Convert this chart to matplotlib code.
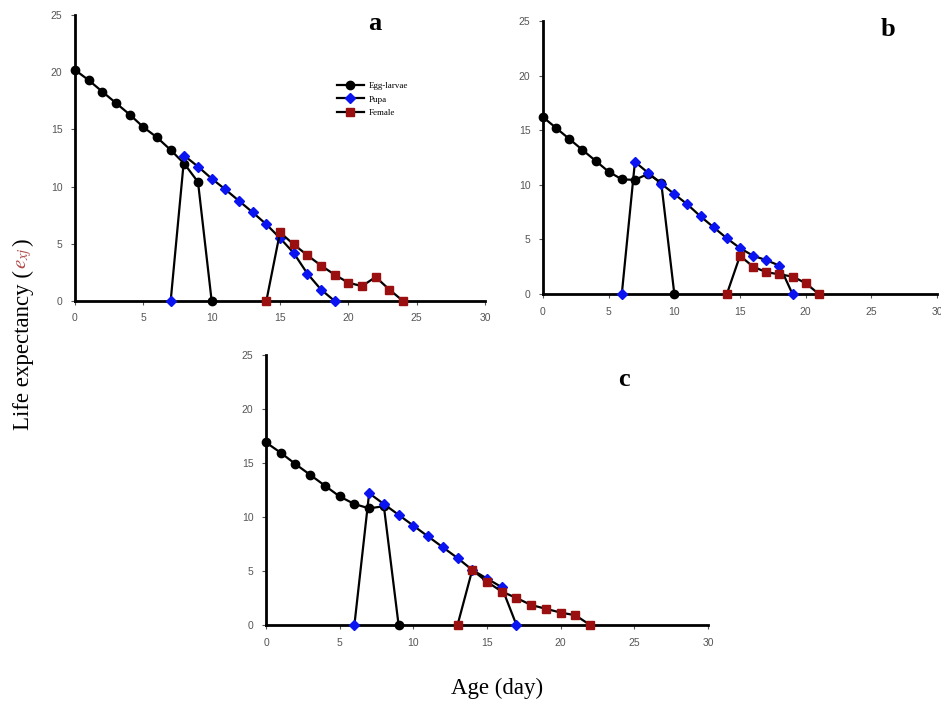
import matplotlib
matplotlib.use("Agg")
import matplotlib.pyplot as plt

plt.rcParams["mathtext.fontset"] = "stix"

# Age-stage life expectancy (e_xj) for three treatments
age_egg_a = [0, 1, 2, 3, 4, 5, 6, 7, 8, 9, 10]
egg_a = [20.2, 19.3, 18.3, 17.3, 16.3, 15.2, 14.3, 13.2, 12.0, 10.4, 0]
age_pupa_a = [7, 8, 9, 10, 11, 12, 13, 14, 15, 16, 17, 18, 19]
pupa_a = [0, 12.7, 11.75, 10.7, 9.75, 8.75, 7.75, 6.7, 5.5, 4.2, 2.4, 1.0, 0]
age_fem_a = [14, 15, 16, 17, 18, 19, 20, 21, 22, 23, 24]
fem_a = [0, 6.0, 4.95, 4.0, 3.1, 2.3, 1.6, 1.3, 2.1, 1.0, 0]

age_egg_b = [0, 1, 2, 3, 4, 5, 6, 7, 8, 9, 10]
egg_b = [16.2, 15.2, 14.2, 13.2, 12.2, 11.2, 10.5, 10.45, 11.0, 10.2, 0]
age_pupa_b = [6, 7, 8, 9, 10, 11, 12, 13, 14, 15, 16, 17, 18, 19]
pupa_b = [0, 12.1, 11.1, 10.1, 9.15, 8.2, 7.1, 6.1, 5.1, 4.2, 3.5, 3.1, 2.6, 0]
age_fem_b = [14, 15, 16, 17, 18, 19, 20, 21]
fem_b = [0, 3.5, 2.5, 2.0, 1.8, 1.6, 1.0, 0]

age_egg_c = [0, 1, 2, 3, 4, 5, 6, 7, 8, 9]
egg_c = [16.9, 15.95, 14.9, 13.9, 12.9, 11.9, 11.2, 10.8, 11.0, 0]
age_pupa_c = [6, 7, 8, 9, 10, 11, 12, 13, 14, 15, 16, 17]
pupa_c = [0, 12.2, 11.2, 10.2, 9.2, 8.2, 7.2, 6.2, 5.1, 4.3, 3.5, 0]
age_fem_c = [13, 14, 15, 16, 17, 18, 19, 20, 21, 22]
fem_c = [0, 5.1, 4.0, 3.1, 2.5, 1.85, 1.5, 1.15, 0.9, 0]

stage_names = ["Egg-larvae", "Pupa", "Female"]
panel_letters = ["a", "b", "c"]
x_ticks = [0, 5, 10, 15, 20, 25, 30]
y_ticks = [0, 5, 10, 15, 20, 25]

W, H = 941, 703
fig = plt.figure(figsize=(W / 100, H / 100), dpi=100)


def px_axes(x0, y_top, x1, y_bot):
    return fig.add_axes([x0 / W, 1 - y_bot / H, (x1 - x0) / W, (y_bot - y_top) / H])


styles = [
    dict(marker="o", mfc="black", mec="black", ms=6),
    dict(marker="D", mfc="#0a14f0", mec="#0a14f0", ms=5),
    dict(marker="s", mfc="#9a0f0f", mec="#9a0f0f", ms=5.5),
]

panels = [
    (px_axes(75, 15, 485, 301),
     [(age_egg_a, egg_a), (age_pupa_a, pupa_a), (age_fem_a, fem_a)]),
    (px_axes(543, 21, 937, 294),
     [(age_egg_b, egg_b), (age_pupa_b, pupa_b), (age_fem_b, fem_b)]),
    (px_axes(266, 355, 708, 625),
     [(age_egg_c, egg_c), (age_pupa_c, pupa_c), (age_fem_c, fem_c)]),
]

letter_pos = [(0.73, 0.97), (0.875, 0.97), (0.81, 0.91)]

for i, (ax, series) in enumerate(panels):
    for (xs, ys), name, st in zip(series, stage_names, styles):
        ax.plot(xs, ys, color="black", lw=1.6, label=name, clip_on=False,
                zorder=3, **st)
    ax.set_xlim(0, 30)
    ax.set_ylim(0, 25)
    ax.set_xticks(x_ticks)
    ax.set_yticks(y_ticks)
    for s in ("top", "right"):
        ax.spines[s].set_visible(False)
    for s in ("left", "bottom"):
        ax.spines[s].set_linewidth(2.0)
    ax.tick_params(axis="both", labelsize=7.5, labelcolor="#555555",
                   color="#555555", length=3, width=0.8, pad=6)
    for lab in ax.get_xticklabels() + ax.get_yticklabels():
        lab.set_family("Liberation Sans")
    ax.patch.set_alpha(0)
    lx, ly = letter_pos[i]
    ax.text(lx, ly, panel_letters[i], transform=ax.transAxes,
            fontsize=19, fontweight="bold", family="Liberation Serif",
            ha="center", va="center")

leg = panels[0][0].legend(loc="upper left", bbox_to_anchor=(0.63, 0.78),
                          frameon=False, handlelength=3.0, handletextpad=0.5,
                          labelspacing=0.6, borderaxespad=0,
                          prop=dict(family="Liberation Serif", size=6.5))

# Shared axis titles
fig.text(497 / W, 1 - 688 / H, "Age (day)", family="Liberation Serif",
         fontsize=16.5, ha="center", va="center")

ylab_x = 23 / W
part1 = fig.text(ylab_x, 1 - 430 / H, "Life expectancy (", rotation=90,
                 family="Liberation Serif", fontsize=16.5, ha="center",
                 va="bottom")
fig.canvas.draw()
r = fig.canvas.get_renderer()
bb = part1.get_window_extent(r)
part2 = fig.text(ylab_x + 1 / W, bb.y1 / fig.bbox.height + 1 / H,
                 r"$e_{xj}$", rotation=90, fontsize=15, color="#b04a4a",
                 ha="center", va="bottom")
bb2 = part2.get_window_extent(r)
fig.text(ylab_x, bb2.y1 / fig.bbox.height + 1 / H, ")", rotation=90,
         family="Liberation Serif", fontsize=16.5, ha="center", va="bottom")

fig.savefig("out.png", dpi=100)
